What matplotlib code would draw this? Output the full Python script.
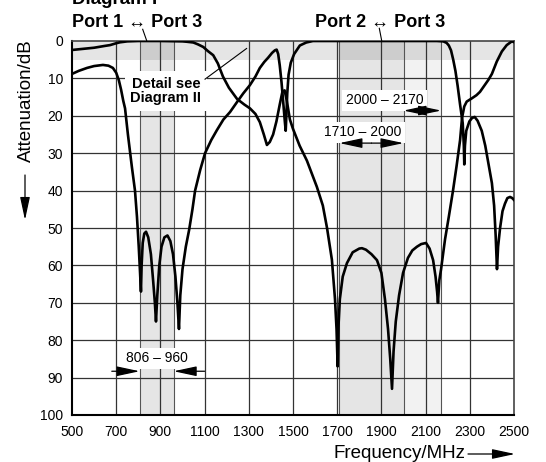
import matplotlib
matplotlib.use("Agg")
import matplotlib.pyplot as plt
from matplotlib.patches import FancyArrowPatch
from matplotlib.lines import Line2D

plt.rcParams['font.family'] = ['Liberation Sans', 'DejaVu Sans']

# Port 1 <-> Port 3 transfer (attenuation in dB)
freq_p13 = [500, 550, 600, 650, 672, 700, 717, 750, 800, 900, 1000, 1020, 1049, 1070,
            1094, 1115, 1139, 1160, 1183, 1210, 1247, 1280, 1305, 1330, 1350, 1368,
            1382, 1395, 1410, 1425, 1440, 1452, 1462, 1472, 1486, 1500, 1530, 1563,
            1608, 1635, 1654, 1676, 1690, 1697, 1702, 1706, 1712, 1725, 1744, 1770,
            1800, 1812, 1830, 1855, 1880, 1900, 1916, 1930, 1940, 1948, 1955, 1965,
            1980, 1998, 2020, 2040, 2061, 2080, 2102, 2118, 2134, 2145, 2152, 2156,
            2162, 2170, 2188, 2205, 2224, 2240, 2256, 2265, 2275, 2286, 2310, 2330,
            2346, 2365, 2384, 2400, 2422, 2445, 2467, 2490, 2500]
att_p13 = [2.4, 2.1, 1.8, 1.3, 1.1, 0.6, 0.35, 0.1, 0.0, 0.0, 0.1, 0.2, 0.4, 0.9,
           1.6, 2.7, 3.8, 6.0, 9.5, 12.5, 15.5, 17.0, 18.0, 19.5, 21.7, 25.0,
           27.8, 27.0, 25.0, 21.5, 17.0, 13.6, 13.2, 16.0, 21.0, 23.5, 28.0, 32.0,
           39.0, 44.0, 50.0, 58.5, 69.0, 77.0, 87.0, 76.0, 69.0, 63.0, 59.4, 56.5,
           55.5, 55.4, 55.8, 57.0, 58.6, 62.0, 69.0, 77.0, 85.0, 93.0, 83.0, 75.0,
           68.0, 62.0, 58.0, 56.0, 55.0, 54.3, 54.0, 55.5, 58.6, 63.0, 67.0, 70.0,
           64.0, 61.0, 53.0, 47.0, 40.0, 33.5, 26.5, 20.5, 17.5, 16.2, 15.3, 14.5,
           13.6, 12.0, 10.4, 8.8, 5.5, 2.8, 1.1, 0.1, 0.3]

# Port 2 <-> Port 3 transfer (attenuation in dB)
freq_p23 = [500, 530, 568, 600, 640, 665, 685, 700, 712, 722, 732, 740, 753, 771, 785,
            794, 802, 808, 812, 815, 820, 827, 835, 845, 857, 867, 875, 880, 886, 895,
            905, 918, 932, 945, 957, 968, 977, 984, 990, 1000, 1015, 1030, 1045, 1057,
            1080, 1102, 1130, 1156, 1185, 1215, 1247, 1275, 1305, 1330, 1350, 1370,
            1387, 1405, 1418, 1426, 1433, 1440, 1448, 1456, 1463, 1467, 1470, 1474,
            1480, 1490, 1505, 1531, 1560, 1590, 1700, 2000, 2150, 2180, 2195, 2205,
            2215, 2225, 2235, 2245, 2256, 2262, 2268, 2273, 2275, 2278, 2284, 2298,
            2310, 2322, 2335, 2354, 2370, 2385, 2400, 2410, 2417, 2423, 2428, 2437,
            2448, 2459, 2470, 2482, 2492, 2500]
att_p23 = [8.8, 8.0, 7.2, 6.7, 6.4, 6.6, 7.2, 8.5, 10.5, 13.0, 16.0, 18.0, 25.0, 33.7, 40.0,
           47.0, 55.0, 62.0, 67.0, 60.0, 54.0, 51.5, 51.0, 52.5, 57.0, 64.0, 70.0, 75.0, 68.0, 60.0,
           55.0, 52.5, 52.0, 53.5, 57.0, 63.0, 70.0, 77.0, 68.0, 61.0, 55.0, 50.5, 45.0, 40.0,
           34.5, 30.0, 26.5, 23.8, 21.0, 19.0, 16.3, 14.0, 11.8, 9.5, 7.2, 5.6,
           4.5, 3.2, 2.5, 2.3, 3.5, 6.5, 11.0, 16.5, 21.5, 24.0, 20.0, 14.0,
           9.0, 5.8, 3.5, 1.2, 0.4, 0.0, 0.0, 0.0, 0.0, 0.1, 0.5, 1.2,
           2.5, 5.0, 8.0, 12.0, 17.0, 19.5, 22.0, 28.0, 33.0, 28.0, 24.0, 21.5,
           20.6, 20.3, 21.3, 24.0, 28.0, 33.0, 38.0, 44.0, 52.0, 61.0, 55.0, 50.0,
           45.5, 43.5, 42.0, 41.7, 42.0, 42.5]

x_ticks = [500, 700, 900, 1100, 1300, 1500, 1700, 1900, 2100, 2300, 2500]
y_ticks = [0, 10, 20, 30, 40, 50, 60, 70, 80, 90, 100]
grid_freqs = [700, 900, 1100, 1300, 1500, 1700, 1900, 2100, 2300]
grid_atts = [10, 20, 30, 40, 50, 60, 70, 80, 90]
band_gsm = (806, 960)
band_dcs = (1710, 2000)
band_umts = (2000, 2170)
passband_limit_db = 5

W, H = 546, 462
fig = plt.figure(figsize=(W / 100, H / 100), dpi=100)
ax = fig.add_axes([72 / W, 47 / H, 442 / W, 374 / H])
ax.set_xlim(500, 2500)
ax.set_ylim(100, 0)


def fx(px):
    return px / W


def fy(py):
    return 1 - py / H


# shaded frequency bands and pass-band strip
ax.axhspan(0, passband_limit_db, color='k', alpha=0.10, lw=0, zorder=0)
ax.axvspan(*band_gsm, color='k', alpha=0.10, lw=0, zorder=0)
ax.axvspan(*band_dcs, color='k', alpha=0.10, lw=0, zorder=0)
ax.axvspan(*band_umts, color='k', alpha=0.05, lw=0, zorder=0)

# grid
for f in grid_freqs:
    ax.axvline(f, color='#333333', lw=0.9, zorder=1)
for f in list(band_gsm) + list(band_dcs) + [band_umts[1]]:
    ax.axvline(f, color='#555555', lw=0.8, zorder=1)
for a in grid_atts:
    ax.axhline(a, color='#333333', lw=0.9, zorder=1)

# curves
ax.plot(freq_p13, att_p13, color='black', lw=1.9, solid_joinstyle='round', zorder=4)
ax.plot(freq_p23, att_p23, color='black', lw=1.9, solid_joinstyle='round', zorder=4)

ax.set_xticks(x_ticks)
ax.set_yticks(y_ticks)
ax.tick_params(length=0, labelsize=10)
ax.tick_params(axis='x', pad=7)
ax.tick_params(axis='y', pad=6.5)
for s in ['left', 'bottom']:
    ax.spines[s].set_linewidth(1.5)
    ax.spines[s].set_color('black')
for s in ['top', 'right']:
    ax.spines[s].set_linewidth(1.2)
    ax.spines[s].set_color('#444444')

box = dict(fc='white', ec='none', pad=2.5)

# band annotations
ax.text(925, 13.4, 'Detail see\nDiagram II', ha='center', va='center', fontsize=10.5,
        fontweight='bold', linespacing=1.05, zorder=3,
        bbox=dict(fc='white', ec='none', pad=4))
ax.plot([1102, 1290], [10.2, 2.0], color='black', lw=0.8, zorder=3)

ax.text(1914, 15.8, '2000 – 2170', ha='center', va='center', fontsize=10,
        zorder=3, bbox=box)
ax.text(1814, 24.4, '1710 – 2000', ha='center', va='center', fontsize=10,
        zorder=3, bbox=box)
ax.text(885, 84.8, '806 – 960', ha='center', va='center', fontsize=10,
        zorder=3, bbox=box)

arrow_kw = dict(arrowstyle='-|>,head_length=1.4,head_width=0.3', mutation_scale=10,
                color='black', lw=0.9, shrinkA=0, shrinkB=0, zorder=3)


def dim_arrow(x0, x1, y):
    mid = (x0 + x1) / 2
    ax.add_patch(FancyArrowPatch((mid, y), (x0, y), **arrow_kw))
    ax.add_patch(FancyArrowPatch((mid, y), (x1, y), **arrow_kw))


dim_arrow(*band_umts, 18.6)
dim_arrow(*band_dcs, 27.3)
ax.add_patch(FancyArrowPatch((680, 88.3), (band_gsm[0], 88.3), **arrow_kw))
ax.add_patch(FancyArrowPatch((1100, 88.3), (band_gsm[1], 88.3), **arrow_kw))

# headers
fig.text(fx(72), fy(3.5), 'Diagram I', fontsize=13.5, fontweight='bold', va='baseline')
fig.text(fx(72.5), fy(27), 'Port 1 ↔ Port 3', fontsize=13, fontweight='bold',
         va='baseline')
fig.text(fx(315), fy(27), 'Port 2 ↔ Port 3', fontsize=13, fontweight='bold',
         va='baseline')
fig.add_artist(Line2D([fx(142.7), fx(146.7)], [fy(29.3), fy(40.7)], color='black', lw=0.8))
fig.add_artist(Line2D([fx(379.3), fx(381.7)], [fy(28.3), fy(40.7)], color='black', lw=0.8))

# axis titles with direction arrows
fig.text(fx(26), fy(101), 'Attenuation/dB', rotation=90, ha='center', va='center',
         fontsize=13.5)
fig.add_artist(FancyArrowPatch((fx(25), fy(175)), (fx(25), fy(220)),
                               transform=fig.transFigure, **arrow_kw))
fig.text(fx(465), fy(453), 'Frequency/MHz', ha='right', va='center', fontsize=13.5)
fig.add_artist(FancyArrowPatch((fx(468), fy(454)), (fx(515), fy(454)),
                               transform=fig.transFigure, **arrow_kw))

fig.savefig('out.png', dpi=100)
